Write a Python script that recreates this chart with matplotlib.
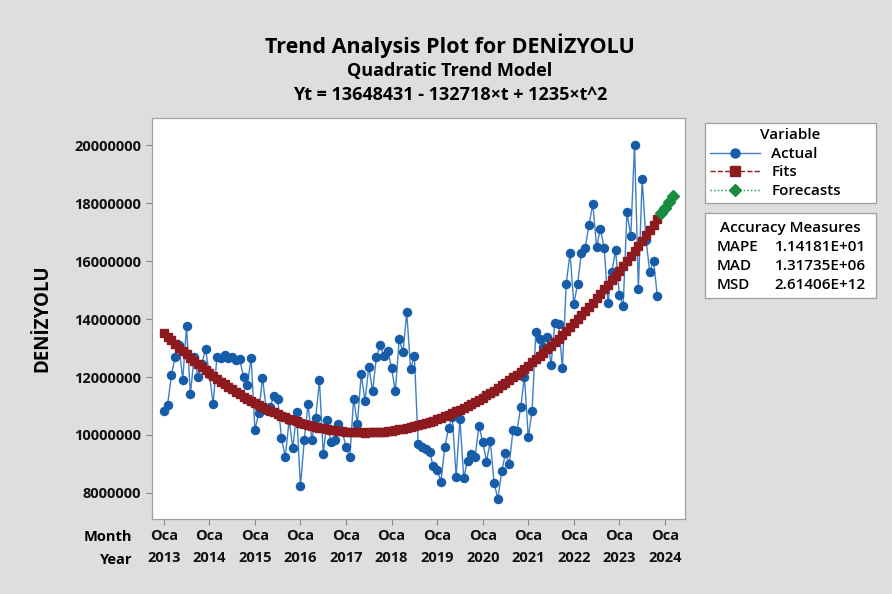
import matplotlib
matplotlib.use("Agg")
import matplotlib.pyplot as plt
import numpy as np
from matplotlib.lines import Line2D

plt.rcParams['font.family'] = ['Open Sans', 'DejaVu Sans']

# monthly values (millions), Oca 2013 .. Kas 2023
actual = [
    10.84, 11.03, 12.06, 12.70, 13.10, 11.90, 13.77, 11.41, 12.69, 12.01, 12.45, 12.96,
    12.10, 11.07, 12.70, 12.67, 12.75, 12.66, 12.68, 12.59, 12.62, 12.01, 11.71, 12.66,
    10.17, 10.75, 11.98, 10.86, 10.98, 11.35, 11.25, 9.89, 9.24, 10.50, 9.54, 10.78,
    8.22, 9.83, 11.07, 9.83, 10.57, 11.88, 9.33, 10.52, 9.75, 9.83, 10.37, 10.12,
    9.59, 9.24, 11.25, 10.38, 12.10, 11.17, 12.36, 11.51, 12.69, 13.09, 12.72, 12.91,
    12.31, 11.50, 13.30, 12.86, 14.23, 12.28, 12.74, 9.68, 9.58, 9.51, 9.41, 8.91,
    8.79, 8.39, 9.57, 10.23, 10.63, 8.56, 10.56, 8.52, 9.11, 9.33, 9.24, 10.31,
    9.77, 9.08, 9.79, 8.34, 7.79, 8.74, 9.37, 8.99, 10.18, 10.13, 10.95, 12.01,
    9.92, 10.82, 13.55, 13.30, 13.05, 13.39, 12.40, 13.87, 13.83, 12.31, 15.22, 16.28,
    14.53, 15.21, 16.29, 16.47, 17.25, 17.99, 16.49, 17.13, 16.45, 14.54, 15.63, 16.38,
    14.83, 14.45, 17.70, 16.86, 20.03, 15.03, 18.83, 16.75, 15.63, 16.02, 14.79,
]
actual = np.array(actual) * 1e6

# quadratic trend model from the title
coef = [1235, -132718, 13648431]
n_forecast = 4

years = list(range(2013, 2025))
yticks = list(range(8000000, 20000001, 2000000))

t = np.arange(1, len(actual) + 1)
t_fc = np.arange(len(actual) + 1, len(actual) + 1 + n_forecast)
fits = np.polyval(coef, t)
fcast = np.polyval(coef, t_fc)

fig = plt.figure(figsize=(8.92, 5.94), dpi=100, facecolor='#dedede')
ax = fig.add_axes([0.170, 0.126, 0.598, 0.675])
ax.set_facecolor('white')

ax.plot(t, actual, color='#3f7fc6', lw=1.0, marker='o', ms=5.8,
        mfc='#165ca8', mec='#165ca8', zorder=2)
ax.plot(t, fits, color='#8c1a1e', lw=1.0, ls='--', marker='s', ms=6.3,
        mfc='#8c1a1e', mec='#8c1a1e', zorder=3)
ax.plot(t_fc, fcast, color='#1a8c42', lw=1.0, ls=':', marker='D', ms=6.0,
        mfc='#1a8c42', mec='#1a8c42', zorder=4)

ax.set_xlim(-2.2, 138.3)
ax.set_ylim(7.09e6, 20.94e6)
ax.set_xticks([1 + 12 * i for i in range(len(years))])
ax.set_xticklabels(['Oca\n%d' % y for y in years], fontsize=10.5,
                   fontweight='bold', linespacing=1.75)
ax.set_yticks(yticks)
ax.set_yticklabels([str(v) for v in yticks], fontsize=10.5, fontweight='bold')
ax.tick_params(axis='both', colors='#888888', length=4, width=0.8, labelcolor='#111111')
ax.tick_params(axis='x', pad=3)
for s in ax.spines.values():
    s.set_color('#a0a0a0')
    s.set_linewidth(0.9)

ax.set_ylabel('DENİZYOLU', fontsize=13.5, fontweight='bold', labelpad=16)

fig.text(0.148, 1 - 537 / 594, 'Month', ha='right', va='center', fontsize=10.5, fontweight='bold')
fig.text(0.148, 1 - 560 / 594, 'Year', ha='right', va='center', fontsize=10.5, fontweight='bold')

fig.text(0.5045, 1 - 46 / 594, 'Trend Analysis Plot for DENİZYOLU', ha='center', va='center',
         fontsize=15.5, fontweight='bold')
fig.text(0.5045, 1 - 71 / 594, 'Quadratic Trend Model', ha='center', va='center',
         fontsize=13, fontweight='bold')
fig.text(0.5045, 1 - 95 / 594, 'Yt = 13648431 - 132718×t + 1235×t^2', ha='center', va='center',
         fontsize=13, fontweight='bold')

# legend box
handles = [
    Line2D([], [], color='#3f7fc6', lw=1.0, marker='o', ms=6.5, mfc='#165ca8', mec='#165ca8'),
    Line2D([], [], color='#8c1a1e', lw=1.0, ls='--', marker='s', ms=6.5, mfc='#8c1a1e', mec='#8c1a1e'),
    Line2D([], [], color='#1a8c42', lw=1.0, ls=':', marker='D', ms=6.5, mfc='#1a8c42', mec='#1a8c42'),
]
leg = fig.legend(handles, ['Actual', 'Fits', 'Forecasts'], title='Variable',
                 loc='upper left', bbox_to_anchor=(0.790, 0.650, 0.192, 0.143), mode='expand',
                 fancybox=False, edgecolor='#a0a0a0', framealpha=1, fontsize=11,
                 title_fontsize=11, handlelength=3.3, borderpad=0.35, labelspacing=0.3,
                 handletextpad=0.7, borderaxespad=0)
leg.get_frame().set_linewidth(0.9)
for txt in leg.get_texts():
    txt.set_fontweight('semibold')
leg.get_title().set_fontweight('semibold')

# accuracy measures box
acc = fig.add_axes([0.790, 0.498, 0.192, 0.143])
acc.set_xticks([])
acc.set_yticks([])
for s in acc.spines.values():
    s.set_color('#a0a0a0')
    s.set_linewidth(0.9)
measures = ['MAPE', 'MAD', 'MSD']
values = ['1.14181E+01', '1.31735E+06', '2.61406E+12']
acc.text(0.5, 0.83, 'Accuracy Measures', ha='center', va='center', fontsize=11,
         fontweight='semibold', transform=acc.transAxes)
for i, (m, v) in enumerate(zip(measures, values)):
    yy = 0.60 - i * 0.225
    acc.text(0.07, yy, m, ha='left', va='center', fontsize=11, fontweight='semibold',
             transform=acc.transAxes)
    acc.text(0.94, yy, v, ha='right', va='center', fontsize=11, fontweight='semibold',
             transform=acc.transAxes)

fig.savefig('out.png', dpi=100, facecolor=fig.get_facecolor())
